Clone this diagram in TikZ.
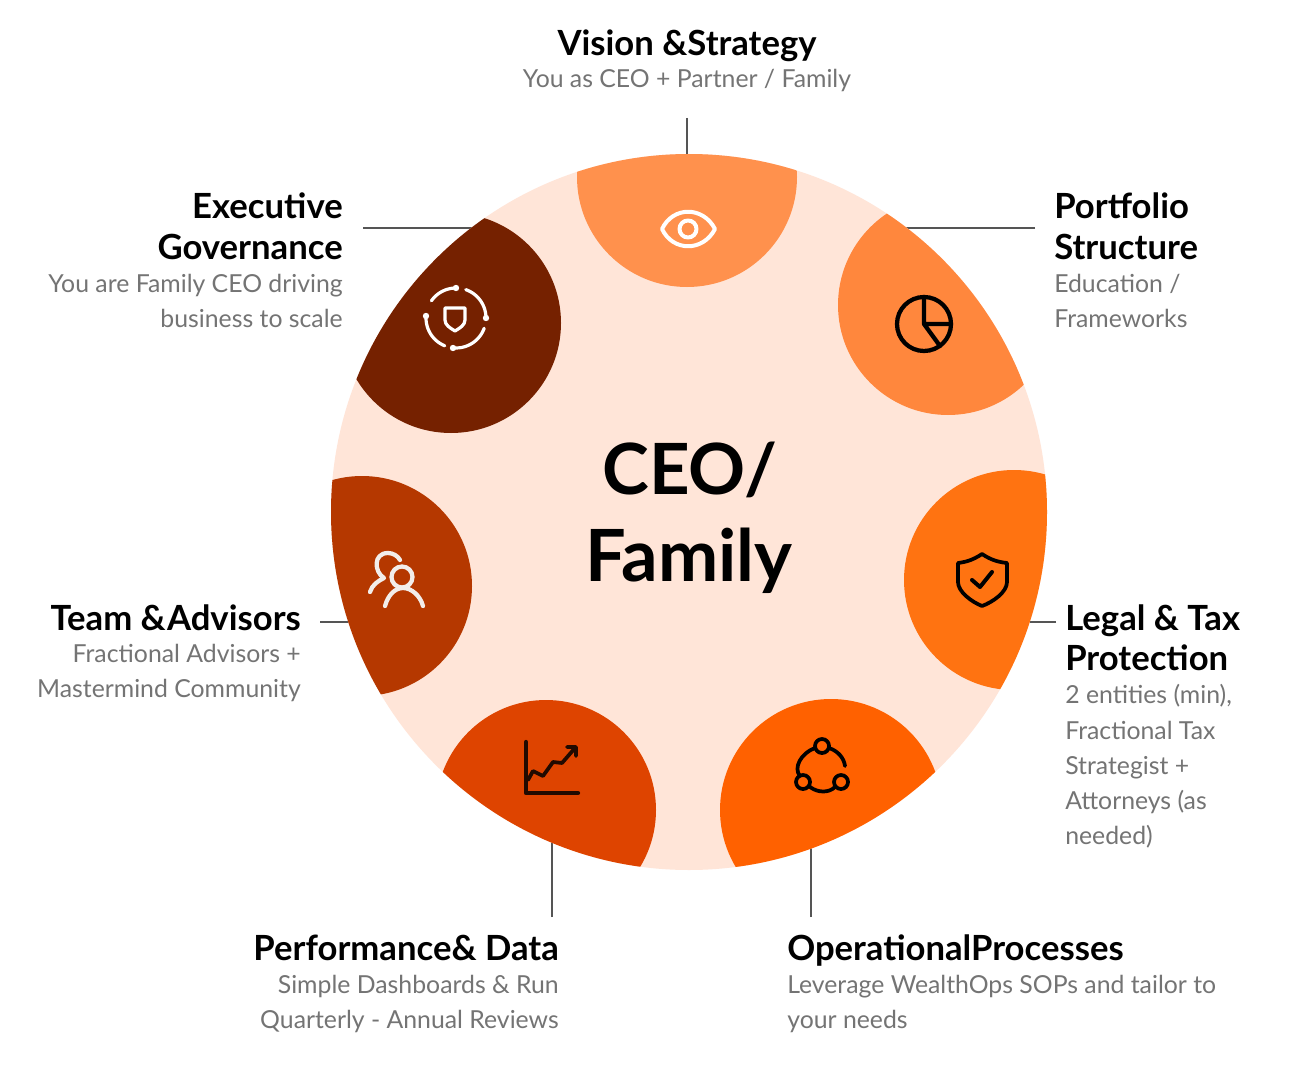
\documentclass[tikz,border=0pt]{standalone}
\usepackage{fontspec}
\setmainfont{Lato}
\definecolor{bgc}{HTML}{FFE5D8}
\definecolor{pa}{HTML}{FF914D}
\definecolor{pb}{HTML}{FF873D}
\definecolor{pc}{HTML}{FF7311}
\definecolor{pd}{HTML}{FF6100}
\definecolor{pe}{HTML}{DE4400}
\definecolor{pf}{HTML}{B53800}
\definecolor{pg}{HTML}{752100}
\definecolor{subc}{HTML}{747474}
\definecolor{linec}{HTML}{555555}
\definecolor{softw}{HTML}{F2EDEA}
\tikzset{x=0.75pt,y=-0.75pt,
 head/.style={font=\fontsize{26}{30.8}\selectfont\bfseries,text=black,inner sep=0pt},
 sub/.style={font=\fontsize{18.6}{26.4}\selectfont,text=subc,inner sep=0pt},
 leader/.style={draw=linec,line width=1pt},
 ico/.style={line width=2.2pt,line cap=round,line join=round}}
\newcommand{\petal}[4]{\begin{scope}\clip (689,512) circle (358);\fill[#1] (#2,#3) circle (#4);\end{scope}}
\newcommand{\ringarc}[2]{\draw[ico,white,line width=2.4pt] plot[domain=#1:#2,samples=14,smooth] ({456+30*cos(\x)},{318-30*sin(\x)});}
\begin{document}
\begin{tikzpicture}
\useasboundingbox (0,0) rectangle (1306,1070);
\fill[white] (0,0) rectangle (1306,1070);
\coordinate (c1a) at (687,118); \coordinate (c1b) at (687,156);
\coordinate (c2a) at (363,228); \coordinate (c2b) at (478,228);
\coordinate (c3a) at (1035,228); \coordinate (c3b) at (905,228);
\coordinate (c4a) at (1056,622); \coordinate (c4b) at (1030,622);
\coordinate (c5a) at (320,622); \coordinate (c5b) at (350,622);
\coordinate (c6a) at (552,917); \coordinate (c6b) at (552,842);
\coordinate (c7a) at (811,917); \coordinate (c7b) at (811,848);
\draw[leader] (c1a)--(c1b); \draw[leader] (c2a)--(c2b); \draw[leader] (c3a)--(c3b);
\draw[leader] (c4a)--(c4b); \draw[leader] (c5a)--(c5b); \draw[leader] (c6a)--(c6b); \draw[leader] (c7a)--(c7b);
\fill[bgc] (689,512) circle (358);
\petal{pa}{687}{177}{110}
\petal{pb}{948}{305}{110}
\petal{pc}{1014}{580}{110}
\petal{pd}{831}{810}{111}
\petal{pe}{546}{810}{110}
\petal{pf}{362}{586}{110}
\petal{pg}{451}{323}{110}
% eye
\draw[ico,white,line width=3pt] (662,229) .. controls (673,206) and (703,206) .. (715,229) .. controls (703,252) and (673,252) .. (662,229) -- cycle;
\draw[ico,white,line width=3pt] (688,229) circle (8.5);
% pie
\draw[ico,black,line width=3.2pt] (924,324) circle (27);
\draw[ico,black,line width=3.2pt] (924,297)--(924,324)--(951,324) (924,324)--(940,346);
% ring and shield
\ringarc{90}{145}
\ringarc{71}{0}
\ringarc{-20}{-95}
\ringarc{180}{248}
\fill[white] (456,288) circle (3.2) (486,318) circle (3.2) (453,348) circle (3.2) (426,316) circle (3.2);
\draw[ico,white,line width=2.4pt] (445,308)--(465,308)--(465,320) .. controls (465,325) and (460,328) .. (455,331) .. controls (450,328) and (445,325) .. (445,320) -- cycle;
% shield with check
\draw[ico,black,line width=2.8pt] (982,554) .. controls (973,560) and (966,562) .. (958,563) -- (958,582) .. controls (958,592) and (972,602) .. (982,606) .. controls (993,602) and (1007,592) .. (1007,582) -- (1007,563) .. controls (998,562) and (991,560) .. (982,554) -- cycle;
\draw[ico,black,line width=3pt] (972,580)--(980,587)--(992,572);
% network
\draw[ico,black,line width=2.8pt] (822,746) circle (7) (803,782) circle (7) (841,782) circle (7);
\draw[ico,black,line width=2.8pt] (815,748) .. controls (801,753) and (793,768) .. (800,776) (810,787) .. controls (818,793) and (829,793) .. (835,787) (829,748) .. controls (838,751) and (844,758) .. (845,766);
% chart
\draw[ico,black!85!pe,line width=3.2pt] (526,742)--(526,793)--(578,793);
\draw[ico,black!85!pe,line width=2.8pt] (528,780)--(533,771)--(543,776)--(553,762)--(562,763)--(575,748) (567,747)--(576,747)--(576,756);
% people
\draw[ico,softw,line width=3.2pt] (370,592) .. controls (372,585) and (378,581) .. (384,578) .. controls (374,572) and (373,553) .. (388,553) .. controls (393,553) and (398,556) .. (400,560);
\draw[ico,softw,line width=3.2pt] (402,577) circle (10.5);
\draw[ico,softw,line width=3.2pt] (385,606) .. controls (388,595) and (395,588) .. (403,588) .. controls (411,588) and (420,595) .. (423,606);
% text
\node[head,anchor=base] (t1) at (687,56) {Vision \&Strategy};
\node[sub,anchor=base] (s1) at (687,88) {You as CEO + Partner / Family};
\node[head,align=right,anchor=base east] (t2) at (343,219) {Executive};
\node[head,anchor=base east] (t2b) at (343,259) {Governance};
\node[sub,anchor=base east] (s2) at (343,292) {You are Family CEO driving};
\node[sub,anchor=base east] (s2b) at (343,327) {business to scale};
\node[head,anchor=base west] (t3) at (1054,219) {Portfolio};
\node[head,anchor=base west] (t3b) at (1054,259) {Structure};
\node[sub,anchor=base west] (s3) at (1054,292) {Education /};
\node[sub,anchor=base west] (s3b) at (1054,327) {Frameworks};
\node[head,anchor=base west] (t4) at (1065,630) {Legal \& Tax};
\node[head,anchor=base west] (t4b) at (1065,670) {Protection};
\node[sub,anchor=base west] (s4a) at (1065,703) {2 entities (min),};
\node[sub,anchor=base west] (s4b) at (1065,739) {Fractional Tax};
\node[sub,anchor=base west] (s4c) at (1065,774) {Strategist +};
\node[sub,anchor=base west] (s4d) at (1065,809) {Attorneys (as};
\node[sub,anchor=base west] (s4e) at (1065,844) {needed)};
\node[head,anchor=base east] (t5) at (301,630) {Team \&Advisors};
\node[sub,anchor=base east] (s5a) at (301,662) {Fractional Advisors +};
\node[sub,anchor=base east] (s5b) at (301,697) {Mastermind Community};
\node[head,anchor=base east] (t6) at (559,960) {Performance\& Data};
\node[sub,anchor=base east] (s6a) at (559,993) {Simple Dashboards \& Run};
\node[sub,anchor=base east] (s6b) at (559,1028) {Quarterly - Annual Reviews};
\node[head,anchor=base west] (t7) at (787,960) {OperationalProcesses};
\node[sub,anchor=base west] (s7a) at (787,993) {Leverage WealthOps SOPs and tailor to};
\node[sub,anchor=base west] (s7b) at (787,1028) {your needs};
\node[font=\fontsize{53}{60}\selectfont\bfseries,anchor=base] (m1) at (690,494) {CEO/};
\node[font=\fontsize{54}{60}\selectfont\bfseries,anchor=base] (m2) at (689,581) {Family};
\end{tikzpicture}
\end{document}
